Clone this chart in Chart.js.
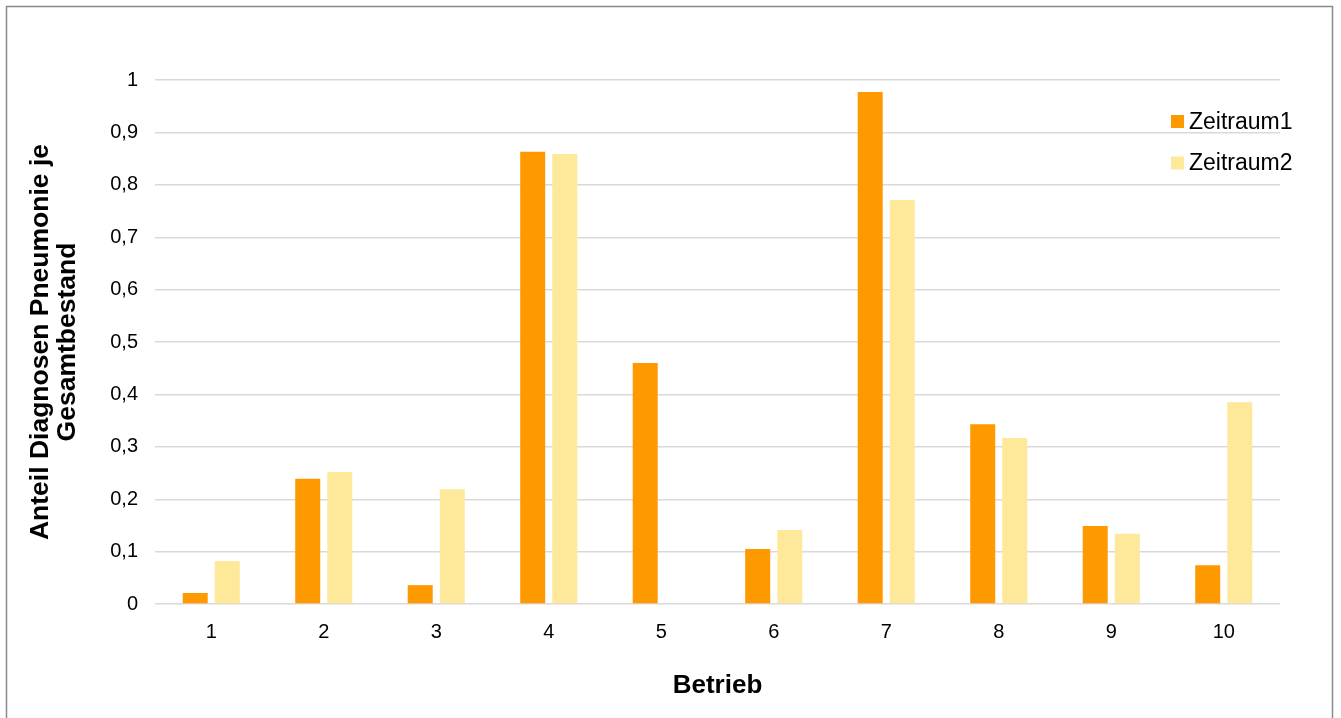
<!DOCTYPE html>
<html>
<head>
<meta charset="utf-8">
<script src="https://cdn.jsdelivr.net/npm/chart.js@4"></script>
<style>
html,body{margin:0;padding:0;background:#fff;}
#wrap{width:1341px;height:718px;position:relative;}
</style>
</head>
<body>
<div id="wrap"><canvas id="c" width="1341" height="718"></canvas></div>
<script>
const categories = ['1','2','3','4','5','6','7','8','9','10'];
const seriesNames = ['Zeitraum1','Zeitraum2'];
const zeitraum1 = [0.021, 0.239, 0.036, 0.863, 0.460, 0.105, 0.977, 0.343, 0.149, 0.074];
const zeitraum2 = [0.082, 0.252, 0.219, 0.859, 0, 0.141, 0.771, 0.317, 0.134, 0.385];
const yTitle = ['Anteil Diagnosen Pneumonie je','Gesamtbestand'];
const xTitle = 'Betrieb';

const FONT = "'Liberation Sans', Arial, sans-serif";

const framePlugin = {
  id: 'frame',
  beforeDraw(chart){
    const ctx = chart.ctx;
    ctx.save();
    ctx.fillStyle = '#fff';
    ctx.fillRect(0,0,chart.width,chart.height);
    ctx.strokeStyle = '#8a8a8a';
    ctx.lineWidth = 1.5;
    ctx.strokeRect(6.5, 6.5, 1326, 730);
    ctx.restore();
  }
};

const legendPlugin = {
  id: 'customLegend',
  afterDraw(chart){
    const ctx = chart.ctx;
    ctx.save();
    ctx.font = '23px ' + FONT;
    ctx.textBaseline = 'middle';
    ctx.textAlign = 'left';
    const ys = [121.5, 163];
    chart.data.datasets.forEach((ds, i) => {
      ctx.fillStyle = ds.backgroundColor;
      ctx.fillRect(1171, ys[i]-6.5, 13, 13);
      ctx.fillStyle = '#000';
      ctx.fillText(ds.label, 1189, ys[i]+1);
    });
    ctx.restore();
  }
};

new Chart(document.getElementById('c'), {
  type: 'bar',
  data: {
    labels: categories,
    datasets: [
      {label: seriesNames[0], data: zeitraum1, backgroundColor: '#FF9900', categoryPercentage: 0.57, barPercentage: 0.78},
      {label: seriesNames[1], data: zeitraum2, backgroundColor: '#FEE99A', categoryPercentage: 0.57, barPercentage: 0.78}
    ]
  },
  options: {
    responsive: false,
    animation: false,
    layout: {padding: {left: 0, right: 61, top: 80, bottom: 0}},
    plugins: {legend: {display: false}, tooltip: {enabled: false}},
    scales: {
      x: {
        grid: {display: false, drawTicks: false},
        border: {display: false},
        ticks: {color: '#000', font: {family: FONT, size: 20}, padding: 16},
        title: {display: true, text: xTitle, color: '#000', font: {family: FONT, size: 26, weight: 'bold'}, padding: {top: 0, bottom: 17}},
        afterFit(s){ s.height = 114; }
      },
      y: {
        min: 0, max: 1,
        ticks: {stepSize: 0.1, color: '#000', font: {family: FONT, size: 20}, padding: 17,
          callback: v => (Math.round(v*10)/10).toString().replace('.', ',')},
        grid: {color: '#d9d9d9', lineWidth: 1.4, drawTicks: false},
        border: {display: false},
        title: {display: true, text: yTitle, color: '#000', font: {family: FONT, size: 26.5, weight: 'bold', lineHeight: 1.02}, padding: {top: 27, bottom: 0}},
        afterFit(s){ s.width = 155; }
      }
    }
  },
  plugins: [framePlugin, legendPlugin]
});
</script>
</body>
</html>
